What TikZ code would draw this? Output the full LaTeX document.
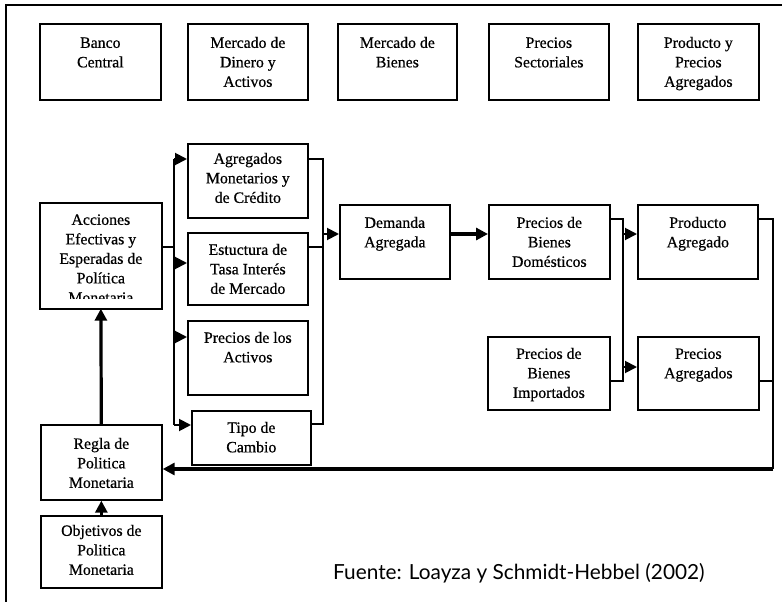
\documentclass[tikz,border=0pt]{standalone}
\usepackage{fontspec}
\setmainfont{Liberation Serif}[FakeBold=0.6]
\newfontfamily\srcfont{Lato}
\usetikzlibrary{arrows.meta}
% fixed-size box content: width, height, first baseline offset, text
\newcommand\boxtxt[4]{\parbox[c][#2pt][t]{#1pt}{\centering\rule{0pt}{#3pt}#4\par}}
\begin{document}
\begin{tikzpicture}[x=1pt,y=-1pt,
  box/.style={draw, line width=1.7pt, inner sep=0pt, anchor=north west,
    font=\fontsize{15.8}{19.5}\selectfont},
  link/.style={line width=1.9pt},
  heavy/.style={line width=3.2pt},
  tip/.style={-{Triangle[length=12pt,width=12pt]}},
]
\useasboundingbox (0,0) rectangle (782,602);
\fill[white] (0,0) rectangle (782,602);
% page frame
\draw[line width=1.3pt] (6,602) -- (6,5) -- (782,5);

% column headings
\node[box] (banco)       at (39,23)  {\boxtxt{121}{76}{24}{Banco\\Central}};
\node[box] (dinero)      at (187,23) {\boxtxt{120}{76}{24}{Mercado de\\Dinero y\\Activos}};
\node[box] (bienes)      at (337,23) {\boxtxt{119}{76}{24}{Mercado de\\Bienes}};
\node[box] (sectoriales) at (488,23) {\boxtxt{120}{76}{24}{Precios\\Sectoriales}};
\node[box] (prodprecios) at (637,23) {\boxtxt{121}{76}{24}{Producto y\\Precios\\Agregados}};

% policy actions (last line cut off by the text area)
\begin{scope}
  \clip (0,0) rectangle (782,298);
  \node[box,draw=none] (acciones) at (40,203) {\boxtxt{120}{104}{21}{Acciones\\Efectivas y\\Esperadas de\\Política\\Monetaria}};
\end{scope}
\draw[line width=1.7pt] (acciones.north west) rectangle (acciones.south east);

% money and asset markets
\node[box] (agregados)  at (187,143) {\boxtxt{120}{74}{20}{Agregados\\Monetarios y\\de Crédito}};
\node[box] (estructura) at (187,232) {\boxtxt{120}{72}{22}{Estuctura de\\Tasa Interés\\de Mercado}};
\node[box] (activos)    at (187,320) {\boxtxt{120}{74}{22}{Precios de los\\Activos}};
\node[box] (tipo)       at (191,410) {\boxtxt{119}{54}{22}{Tipo de\\Cambio}};

% goods market and prices
\node[box] (demanda)    at (339,204) {\boxtxt{110}{74}{23}{Demanda\\Agregada}};
\node[box] (domesticos) at (488,204) {\boxtxt{121}{74}{23}{Precios de\\Bienes\\Domésticos}};
\node[box] (producto)   at (637,204) {\boxtxt{120}{74}{23}{Producto\\Agregado}};
\node[box] (importados) at (487,336) {\boxtxt{122}{73}{22}{Precios de\\Bienes\\Importados}};
\node[box] (preciosagr) at (637,336) {\boxtxt{121}{73}{22}{Precios\\Agregados}};

% policy rule and objectives
\node[box] (regla)     at (40,424) {\boxtxt{121}{75}{24}{Regla de\\Politica\\Monetaria}};
\node[box] (objetivos) at (40,515) {\boxtxt{121}{72}{20}{Objetivos de\\Politica\\Monetaria}};

% source
\node[anchor=base west, inner sep=0pt, font=\srcfont\fontsize{20.8}{24}\selectfont] (fuente) at (333,579)
  {Fuente: Loayza y Schmidt-Hebbel (2002)};

% bus coordinates
\coordinate (lb-in) at (174,247);
\coordinate (lb-a) at (174,159);
\coordinate (lb-e) at (174,263);
\coordinate (lb-p) at (174,337);
\coordinate (lb-t) at (174,425);
\coordinate (rb-a) at (323,159);
\coordinate (rb-e) at (323,247);
\coordinate (rb-t) at (323,424);
\coordinate (rb-out) at (323,234);
\coordinate (pb-d) at (623,219);
\coordinate (pb-i) at (623,381);
\coordinate (pb-p) at (623,234);
\coordinate (pb-g) at (623,367);
\coordinate (fb-p) at (773,219);
\coordinate (fb-g) at (773,381);
\coordinate (fb-b) at (773,469);

% transmission channels
\draw[link] (acciones.east |- lb-in) -- (lb-in);
\draw[link] (lb-a) -- (lb-t);
\draw[link,tip] (lb-a) -- (agregados.west |- lb-a);
\draw[link,tip] (lb-e) -- (estructura.west |- lb-e);
\draw[link,tip] (lb-p) -- (activos.west |- lb-p);
\draw[link,tip] (lb-t) -- (tipo.west |- lb-t);

\draw[link] (agregados.east |- rb-a) -- (rb-a) -- (rb-t) -- (tipo.east |- rb-t);
\draw[link] (estructura.east |- rb-e) -- (rb-e);
\draw[link,tip] (rb-out) -- (demanda.west |- rb-out);
\draw[heavy,tip] (demanda.east |- rb-out) -- (domesticos.west |- rb-out);

\draw[link] (domesticos.east |- pb-d) -- (pb-d) -- (pb-i) -- (importados.east |- pb-i);
\draw[link,tip] (pb-p) -- (producto.west |- pb-p);
\draw[link,tip] (pb-g) -- (preciosagr.west |- pb-g);

% feedback to the policy rule
\draw[link] (producto.east |- fb-p) -- (fb-p) -- (fb-b);
\draw[link] (preciosagr.east |- fb-g) -- (fb-g);
\draw[heavy,tip] (fb-b) -- (regla.east |- fb-b);

\draw[heavy,tip] (regla.north) -- (acciones.south);
\draw[heavy,tip] (objetivos.north) -- (regla.south);
\end{tikzpicture}
\end{document}
